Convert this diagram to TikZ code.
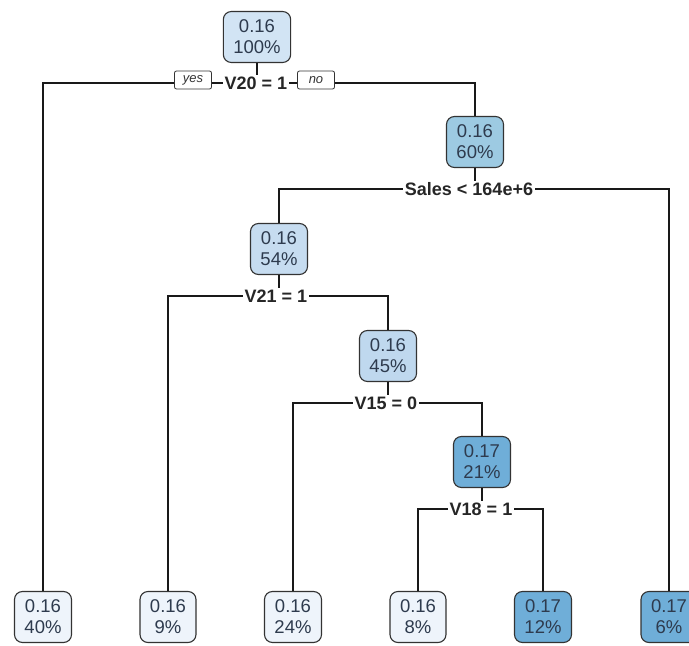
\documentclass[tikz,border=0pt]{standalone}
\usepackage{fontspec}
\setmainfont{Liberation Sans}
\definecolor{txt}{HTML}{2E3B4E}
\definecolor{cleaf}{HTML}{EEF4FB}
\definecolor{croot}{HTML}{D2E4F4}
\definecolor{cmid}{HTML}{C6DCF0}
\definecolor{cmid2}{HTML}{BFD8EE}
\definecolor{c60}{HTML}{9DCAE2}
\definecolor{cdark}{HTML}{6FAED8}
\tikzset{
  tnode/.style={draw=black!80, line width=1.1pt, rounded corners=8pt, text=txt,
    align=center, inner xsep=10pt, inner ysep=2pt, minimum width=55pt, minimum height=51pt,
    font=\fontsize{18.5}{21}\selectfont},
  splitlab/.style={fill=white, inner sep=1.5pt, font=\fontsize{18}{21}\selectfont\bfseries, text=black!85},
  yn/.style={draw=black!80, line width=0.8pt, rounded corners=2pt, fill=white, inner xsep=3pt, inner ysep=1pt,
    minimum width=37pt, minimum height=18pt, font=\fontsize{13}{14}\selectfont\itshape, text=black!80},
  edge/.style={draw=black!90, line width=1.1pt}
}
\begin{document}
\begin{tikzpicture}[x=1pt,y=-1pt]
\useasboundingbox (0,0) rectangle (689,646);
\clip (0,0) rectangle (689,646);
\fill[white] (0,0) rectangle (689,646);
% split lines
\coordinate (s1) at (257,83);
\coordinate (s2) at (475,189);
\coordinate (s3) at (279,296);
\coordinate (s4) at (388,403);
\coordinate (s5) at (482,509);
% nodes
\node[tnode, fill=croot] (n1) at (257,37) {0.16\\100\%};
\node[tnode, fill=c60] (n3) at (475,142) {0.16\\60\%};
\node[tnode, fill=cmid] (n6) at (279,249) {0.16\\54\%};
\node[tnode, fill=cmid2] (n13) at (388,356) {0.16\\45\%};
\node[tnode, fill=cdark] (n27) at (482,462) {0.17\\21\%};
\node[tnode, fill=cleaf] (l1) at (43,617) {0.16\\40\%};
\node[tnode, fill=cleaf] (l2) at (168,617) {0.16\\9\%};
\node[tnode, fill=cleaf] (l3) at (293,617) {0.16\\24\%};
\node[tnode, fill=cleaf] (l4) at (418,617) {0.16\\8\%};
\node[tnode, fill=cdark] (l5) at (543,617) {0.17\\12\%};
\node[tnode, fill=cdark] (l6) at (669,617) {0.17\\6\%};
% connectors
\draw[edge] (l1.north) |- (s1) -| (n3.north);
\draw[edge] (n1.south) -- (s1);
\draw[edge] (n6.north) |- (s2) -| (l6.north);
\draw[edge] (n3.south) -- (s2);
\draw[edge] (l2.north) |- (s3) -| (n13.north);
\draw[edge] (n6.south) -- (s3);
\draw[edge] (l3.north) |- (s4) -| (n27.north);
\draw[edge] (n13.south) -- (s4);
\draw[edge] (l4.north) |- (s5) -| (l5.north);
\draw[edge] (n27.south) -- (s5);
% labels
\node[splitlab] (t1) at (256,83) {V20 = 1};
\node[yn] (yes) at (193,80) {yes};
\node[yn] (no) at (316,80) {no};
\node[splitlab] (t2) at (469,189) {Sales < 164e+6};
\node[splitlab] (t3) at (276,296) {V21 = 1};
\node[splitlab] (t4) at (386,403) {V15 = 0};
\node[splitlab] (t5) at (481,509) {V18 = 1};
\end{tikzpicture}
\end{document}
